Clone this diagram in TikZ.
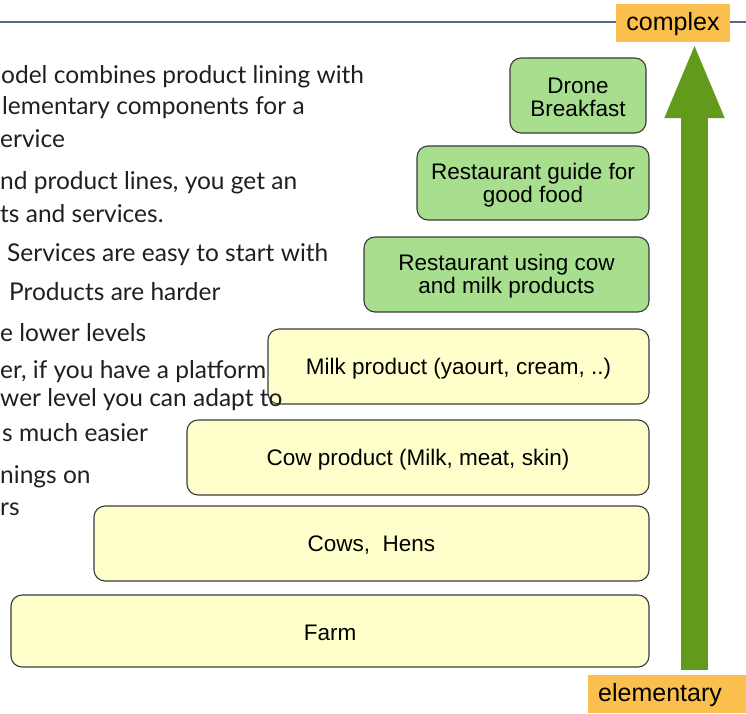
\documentclass[tikz,border=0pt]{standalone}
\usepackage{fontspec}
\setmainfont{Liberation Sans}
\newfontfamily\lato{Lato}
\usetikzlibrary{arrows.meta}
\definecolor{ylw}{HTML}{FFFFCC}
\definecolor{grn}{HTML}{A8DF8E}
\definecolor{org}{HTML}{FBBF4D}
\definecolor{arrgreen}{HTML}{629A1C}
\definecolor{rulecol}{HTML}{56668A}
\definecolor{edge}{HTML}{3A3A3A}
\tikzset{
  box/.style={draw=edge, line width=1.1pt, rounded corners=11pt, inner sep=0pt, outer sep=0pt,
    anchor=north west},
  boxtext/.style={align=center, inner sep=0pt, yshift=-2pt, font=\fontsize{22.5}{23}\selectfont},
  ybox/.style={box, fill=ylw},
  gbox/.style={box, fill=grn},
  lbl/.style={fill=org, inner sep=0pt, font=\fontsize{25}{28}\selectfont, minimum height=38pt},
  lbltext/.style={inner sep=0pt, yshift=-1.5pt, font=\fontsize{25}{28}\selectfont},
  lt/.style={anchor=base west, inner sep=0pt, text=black!88, font=\lato\fontsize{24.5}{28}\selectfont},
}
\begin{document}
\begin{tikzpicture}[x=1pt,y=-1pt]
\useasboundingbox (0,0) rectangle (746,713);
% top rule
\coordinate (r0) at (0,22);
\coordinate (r1) at (746,22);
\draw[rulecol, line width=1.5pt] (r0) -- (r1);
% boxes
\node[gbox, minimum width=136pt, minimum height=75pt] (drone) at (510,58) {};
\node[gbox, minimum width=232pt, minimum height=74pt] (guide) at (417,146) {};
\node[gbox, minimum width=285pt, minimum height=75pt] (rest) at (364,237) {};
\node[ybox, minimum width=381pt, minimum height=75pt] (milk) at (268,329) {};
\node[ybox, minimum width=462pt, minimum height=75pt] (cowp) at (187,420) {};
\node[ybox, minimum width=555pt, minimum height=75pt] (cows) at (94,506) {};
\node[ybox, minimum width=638pt, minimum height=72pt] (farm) at (11,595) {};
\node[boxtext] (droneT) at (drone.center) {Drone\\Breakfast};
\node[boxtext] (guideT) at (guide.center) {Restaurant guide for\\good food};
\node[boxtext] (restT) at (rest.center) {Restaurant using cow\\and milk products};
\node[boxtext] (milkT) at (milk.center) {Milk product (yaourt, cream, ..)};
\node[boxtext] (cowpT) at (cowp.center) {Cow product (Milk, meat, skin)};
\node[boxtext] (cowsT) at (cows.center) {Cows,\ \ Hens};
\node[boxtext] (farmT) at (farm.center) {Farm};
% labels
\node[lbl, minimum width=114pt] (complex) at (673,23) {};
\node[lbltext] (complexT) at (complex.center) {complex};
\node[lbl, minimum width=158pt] (elem) at (667,694) {};
\node[lbltext] (elemT) at (660,694) {elementary};
% arrow
\coordinate (abot) at (694.5,670);
\draw[arrgreen, line width=27pt, -{Triangle[length=76pt,width=54pt]}] (abot) -- (abot |- complex.south);
% left text
\node[lt] (t1) at (1,83) {odel combines product lining with};
\node[lt] (t2) at (2,114) {lementary components for a};
\node[lt] (t3) at (0,147) {ervice};
\node[lt] (t4) at (0,189) {nd product lines, you get an};
\node[lt] (t5) at (0,222) {ts and services.};
\node[lt] (t6) at (7,261) {Services are easy to start with};
\node[lt] (t7) at (9,300) {Products are harder};
\node[lt] (t8) at (0,341) {e lower levels};
\node[lt] (t9) at (0,378) {er, if you have a platform};
\node[lt] (t10) at (0,406) {wer level you can adapt to};
\node[lt] (t11) at (2,441) {s much easier};
\node[lt] (t12) at (0,483) {nings on};
\node[lt] (t13) at (0,515) {rs};
\end{tikzpicture}
\end{document}
